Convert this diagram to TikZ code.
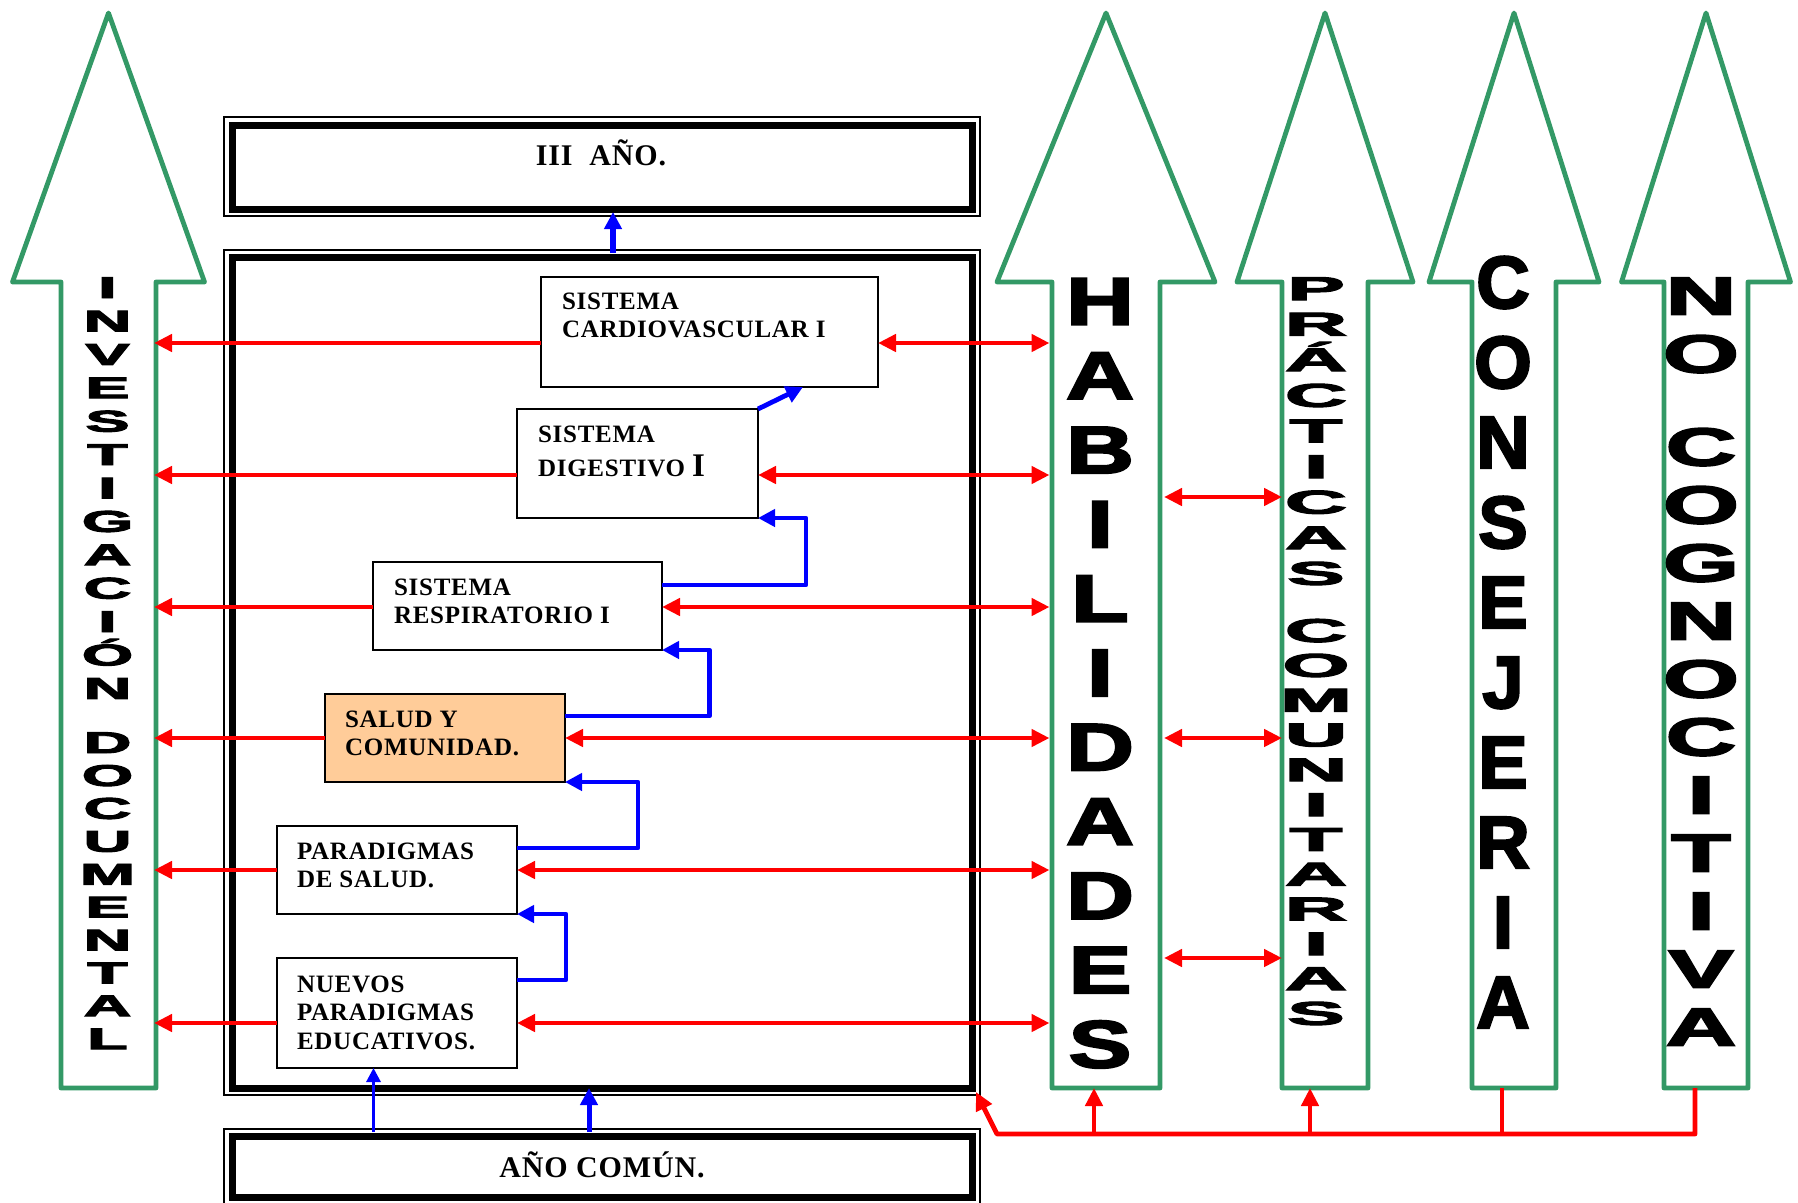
\documentclass[tikz,border=0pt]{standalone}
\usepackage{fontspec}
\usetikzlibrary{arrows.meta,calc}
\newfontfamily\tnr{Liberation Serif}[LetterSpace=3]
\newfontfamily\blk{Liberation Sans}[UprightFont=* Bold, FakeBold=3]
\definecolor{grn}{RGB}{51,153,102}
\definecolor{salmon}{RGB}{255,204,153}
\newcommand\greenarrow[4]{%
  \node[shaftn, minimum width={2*#3}] (#1) at (#2,685) {};
  \draw[grarr] (#1.south west) -- (#1.north west) -- ($(#1.north west)+({#3-#4},0)$) -- (#2,13) -- ($(#1.north east)+({#4-#3},0)$) -- (#1.north east) -- (#1.south east) -- cycle;}
\newcommand\vword[7]{%
  \foreach \L [count=\k] in {#6} \node[#5] (#1\k) at (#2,{#3+(\k-1)*#4}) {\scalebox{#7}[1]{\L}};}
\begin{document}
\begin{tikzpicture}[x=1pt,y=-1pt,
  shaftn/.style={inner sep=0, outer sep=0, minimum height=806},
  grarr/.style={draw=grn, line width=4.8pt, line join=round},
  frmthick/.style={draw, line width=7pt, inner sep=0, outer sep=0},
  frmthin/.style={draw, line width=1.8pt},
  ibox/.style={draw, line width=1.4pt, fill=white, inner sep=0, outer sep=0, anchor=north west},
  btxt/.style={inner sep=0, outer sep=0, anchor=base west, font=\tnr\bfseries\fontsize{25}{28.5}\selectfont},
  ttl/.style={inner sep=0, outer sep=0, anchor=base, font=\tnr\bfseries\fontsize{30}{30}\selectfont},
  redarr/.style={draw=red, line width=4.8pt, line join=round, -{Triangle[length=18pt,width=17pt]}},
  redboth/.style={draw=red, line width=4.8pt, {Triangle[length=18pt,width=17pt]}-{Triangle[length=18pt,width=17pt]}},
  redline/.style={draw=red, line width=4.8pt},
  bluearr/.style={draw=blue, line width=4.8pt, line join=round, -{Triangle[length=17pt,width=17pt]}},
  bluethin/.style={draw=blue, line width=3pt, -{Triangle[length=14pt,width=14pt]}},
  invl/.style={anchor=base, inner sep=0, font=\blk\fontsize{30}{30}\selectfont},
  habl/.style={anchor=base, inner sep=0, font=\blk\fontsize{67}{67}\selectfont},
  pral/.style={anchor=base, inner sep=0, font=\blk\fontsize{33}{33}\selectfont},
  conl/.style={anchor=base, inner sep=0, font=\blk\fontsize{74}{74}\selectfont},
  nocl/.style={anchor=base, inner sep=0, font=\blk\fontsize{53.5}{53.5}\selectfont}]
\useasboundingbox (0,0) rectangle (1798,1202);
\clip (0,0) rectangle (1798,1202);

% green arrows
\greenarrow{inv}{108.5}{47.5}{96}
\greenarrow{hab}{1106}{54}{109}
\greenarrow{pra}{1325}{43}{88}
\greenarrow{con}{1514}{42}{85}
\greenarrow{noc}{1706}{42}{84.5}

% vertical letters
\vword{inva}{107.5}{298}{33.4}{invl}{I,N,V,E,S,T,I,G,A,C,I,Ó,N}{2.2}
\vword{invb}{107.5}{753}{32.9}{invl}{D,O,C,U,M,E,N,T,A,L}{2.2}
\vword{haba}{1100}{324.5}{74.3}{habl}{H,A,B,I,L,I,D,A,D,E,S}{1.4}
\vword{praa}{1316}{300}{35.6}{pral}{P,R,Á,C,T,I,C,A,S}{2.6}
\vword{prab}{1316}{642}{34.8}{pral}{C,O,M,U,N,I,T,A,R,I,A,S}{2.6}
\vword{cona}{1503}{308}{80}{conl}{C,O,N,S,E,J,E,R,I,A}{1.0}
\vword{noca}{1701}{314.5}{58}{nocl}{N,O}{1.82}
\vword{nocb}{1701}{465.5}{58}{nocl}{C,O,G,N,O,C,I,T,I,V,A}{1.82}

% frames
\node[frmthick, minimum width=740, minimum height=84] (iii) at (602,167) {};
\draw[frmthin] ($(iii.north west)+(-8,-8)$) rectangle ($(iii.south east)+(8,7)$);
\node[frmthick, minimum width=740, minimum height=831] (frm) at (602,672.5) {};
\draw[frmthin] ($(frm.north west)+(-8,-7)$) rectangle ($(frm.south east)+(8,7)$);
\node[frmthick, minimum width=740, minimum height=61] (ano) at (602,1166.5) {};
\draw[frmthin] ($(ano.north west)+(-8,-7)$) rectangle ($(ano.south east)+(8,7)$);
\node[ttl] (iiit) at (601,165) {III~~AÑO.};
\node[ttl] (anot) at (602,1177) {AÑO COMÚN.};

% inner boxes
\node[ibox, minimum width=337, minimum height=110] (cv) at (541,277) {};
\node[ibox, minimum width=241, minimum height=109] (dig) at (517,409) {};
\node[ibox, minimum width=289, minimum height=88] (resp) at (373,562) {};
\node[ibox, minimum width=240, minimum height=88, fill=salmon] (sal) at (325,694) {};
\node[ibox, minimum width=240, minimum height=88] (par) at (277,826) {};
\node[ibox, minimum width=240, minimum height=110] (nue) at (277,958) {};

% connector end points
\coordinate (cvL) at ([yshift=-11pt]cv.west);
\coordinate (cvR) at ([yshift=-11pt]cv.east);
\coordinate (digL) at ([yshift=-11.5pt]dig.west);
\coordinate (digR) at ([yshift=-11.5pt]dig.east);
\coordinate (respL) at ([yshift=-1pt]resp.west);
\coordinate (respR) at ([yshift=-1pt]resp.east);
\coordinate (salL) at (sal.west);
\coordinate (salR) at (sal.east);
\coordinate (parL) at (par.west);
\coordinate (parR) at (par.east);
\coordinate (nueL) at ([yshift=-10pt]nue.west);
\coordinate (nueR) at ([yshift=-10pt]nue.east);

% red connectors left / right
\foreach \b in {cv,dig,resp,sal,par,nue}{
  \draw[redarr, shorten >=-2pt] (\b L) -- (\b L -| inv.east);
  \draw[redboth, shorten >=2.5pt] (\b R) -- (\b R -| hab.west);
}
% between habilidades and practicas
\foreach \yy in {497,738,958}
  \draw[redboth, shorten <=4pt] (hab.east |- 0,\yy) -- (pra.west |- 0,\yy);

% bottom red bus
\coordinate (busL) at (997,1134);
\coordinate (busR) at (1695,1134);
\coordinate (frmC) at ([shift={(4,4)}]frm.south east);
\draw[redarr] (noc.south -| busR) -- (busR) -- (busL) -- (frmC);
\draw[redline] (con.south -| 1502,0) -- (1502,1134);
\draw[redarr] (1094,1134) -- (hab.south -| 1094,0);
\draw[redarr] (1310,1134) -- (pra.south -| 1310,0);

% blue connectors
\draw[bluearr] ([yshift=21pt]resp.east) -- ++(144,0) |- (dig.south east);
\draw[bluearr] ([yshift=22pt]sal.east) -- ++(144.5,0) |- (resp.south east);
\draw[bluearr] ([yshift=22pt]par.east) -- ++(121,0) |- (sal.south east);
\draw[bluearr] ([yshift=33pt]nue.east) -- ++(49,0) |- (par.south east);
\coordinate (cvB) at ([xshift=262pt]cv.south west);
\draw[bluearr] (dig.north east) -- (cvB);
\coordinate (nueA) at ([xshift=-23.5pt]nue.south);
\draw[bluethin, shorten <=4pt] (nueA |- ano.north) -- (nueA);
\draw[bluearr, line width=5pt, shorten <=4pt] (ano.north -| 589,0) -- (frm.south -| 589,0);
\draw[bluearr, line width=6pt, shorten <=4pt, shorten >=3pt] (frm.north -| 613,0) -- (iii.south -| 613,0);

% box texts
\node[btxt] (cvt) at ($(cv.north west)+(21,32)$) {\begin{tabular}[t]{@{}l@{}}SISTEMA\\CARDIOVASCULAR I\end{tabular}};
\node[btxt] (digt) at ($(dig.north west)+(21,33)$) {\begin{tabular}[t]{@{}l@{}}SISTEMA\\[4.5pt]DIGESTIVO {\fontsize{33}{33}\selectfont I}\end{tabular}};
\node[btxt] (respt) at ($(resp.north west)+(21,33)$) {\begin{tabular}[t]{@{}l@{}}SISTEMA\\RESPIRATORIO I\end{tabular}};
\node[btxt] (salt) at ($(sal.north west)+(20,33)$) {\begin{tabular}[t]{@{}l@{}}SALUD Y\\COMUNIDAD.\end{tabular}};
\node[btxt] (part) at ($(par.north west)+(20,33)$) {\begin{tabular}[t]{@{}l@{}}PARADIGMAS\\DE SALUD.\end{tabular}};
\node[btxt] (nuet) at ($(nue.north west)+(20,34)$) {\begin{tabular}[t]{@{}l@{}}NUEVOS\\PARADIGMAS\\EDUCATIVOS.\end{tabular}};
\end{tikzpicture}
\end{document}
